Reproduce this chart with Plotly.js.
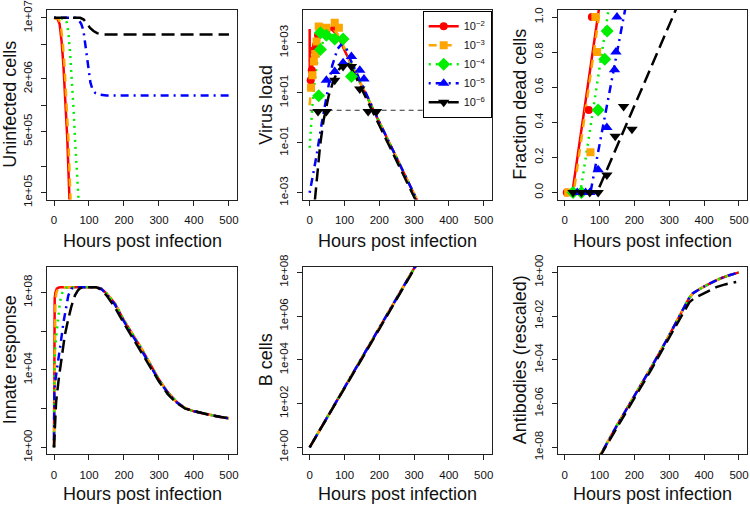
<!DOCTYPE html>
<html><head><meta charset="utf-8">
<script src="https://cdn.plot.ly/plotly-3.0.1.min.js"></script>
<style>html,body{margin:0;padding:0;background:#fff}#chart{width:750px;height:508px}</style>
</head><body><div id="chart"></div>
<script>
// ---------- categories / styling per dose ----------
const doseLabels = ['10<sup>−2</sup>','10<sup>−3</sup>','10<sup>−4</sup>','10<sup>−5</sup>','10<sup>−6</sup>'];
const doseColors = ['#FF0000','#FFA500','#00EE00','#0000FF','#000000'];
const doseDash = ['solid','8px,7px','2px,5px','2px,5px,8px,5px','13px,6px'];
const doseSymbols = ['circle','square','diamond','triangle-up','triangle-down'];
const xTickVals = [0,100,200,300,400,500];
const xTitle = 'Hours post infection';
const yTitles = ['Uninfected cells','Virus load','Fraction dead cells','Innate response','B cells','Antibodies (rescaled)'];

// ---------- Panel 1: uninfected cells (log10 values) ----------
const p1_t_red    = [0,10,16,22,27,32,38,44,48];
const p1_v_red    = [7,6.99,6.93,6.72,6.45,6.12,5.62,4.95,4.55];
const p1_t_orange = [0,13,19,25,30,35,41,47,51];
const p1_v_orange = [7,6.99,6.93,6.72,6.45,6.12,5.62,4.95,4.55];
const p1_t_green  = [0,32,37,41,46,51,56,61,66,71,75];
const p1_v_green  = [7,6.99,6.94,6.83,6.6,6.33,5.95,5.54,5.2,4.88,4.6];
const p1_t_blue   = [0,62,70,78,84,89,94,99,104,110,118,130,150,500];
const p1_v_blue   = [7,7,6.98,6.93,6.86,6.72,6.56,6.4,6.26,6.18,6.14,6.12,6.11,6.11];
const p1_t_black  = [0,75,85,95,103,113,123,140,500];
const p1_v_black  = [7,7,6.98,6.93,6.885,6.85,6.825,6.81,6.81];

// ---------- Panel 2: virus load model (log10) ----------
const p2_t_red    = [0,0.3,3,6,10,18,28,40,55,70,85,100,112,120,200,320];
const p2_v_red    = [3.55,1.6,1.5,1.9,2.5,3.0,3.4,3.6,3.62,3.45,3.15,2.7,2.35,2.13,-0.17,-3.63];
const p2_t_orange = [0,3,7,12,18,25,35,50,65,80,95,108,120,200,320];
const p2_v_orange = [0.5,1.2,1.7,2.3,2.8,3.2,3.5,3.62,3.6,3.35,2.95,2.5,2.13,-0.17,-3.63];
const p2_t_green  = [0,4,8,14,20,30,42,55,70,85,100,110,120,200,320];
const p2_v_green  = [-1.2,-0.2,0.5,1.4,2.1,2.75,3.15,3.3,3.3,3.2,2.95,2.55,2.13,-0.17,-3.63];
const p2_t_blue   = [0,10,20,35,50,65,80,92,105,118,200,320];
const p2_v_blue   = [-3.0,-2.3,-1.5,-0.2,1.0,2.1,2.75,2.95,2.8,2.3,-0.17,-3.63];
const p2_t_black  = [15,20,30,40,55,70,85,100,112,125,150,200,310];
const p2_v_black  = [-3.3,-2.5,-1.1,-0.1,0.9,1.55,1.95,2.15,2.15,1.85,1.15,-0.3,-3.45];
// virus load data points (log10)
const d2_t_red    = [3,6,9,12,18,24,36,48,72];
const d2_v_red    = [1.5,1.9,2.3,2.7,2.9,3.3,3.55,3.5,3.65];
const d2_t_orange = [4,8,12,16,20,26,30,48,72,84];
const d2_v_orange = [1.2,1.7,2.25,2.55,3.05,3.65,3.6,3.6,3.8,3.6];
const d2_t_green  = [26,31,31,48,72,96,120];
const d2_v_green  = [0.88,2.73,3.4,3.3,3.15,3.15,1.65];
const d2_t_blue   = [48,72,96,120,144,156];
const d2_v_blue   = [1.5,1.85,2.2,2.45,1.9,1.55];
const d2_t_black  = [24,48,72,96,120,144,168,192];
const d2_v_black  = [0.25,0.25,1.5,2.05,2.05,1.15,0.25,0.25];
const lodT = [0,500];
const lodV = [0.3,0.3];

// ---------- Panel 3: fraction dead cells ----------
const p3_t_red    = [0,22,100];
const p3_v_red    = [0,0,1.07];
const p3_t_orange = [0,26,103];
const p3_v_orange = [0,0,1.07];
const p3_t_green  = [0,45,128];
const p3_v_green  = [0,0,1.07];
const p3_t_blue   = [0,74,176];
const p3_v_blue   = [0,0,1.07];
const p3_t_black  = [0,93,325];
const p3_v_black  = [0,0,1.07];
const d3_t_red    = [6,69,78];
const d3_v_red    = [0,0.47,1.0];
const d3_t_orange = [10,74,88,93];
const d3_v_orange = [0,0.23,1.0,0.80];
const d3_t_green  = [24,48,96,115,122];
const d3_v_green  = [0,0,0.47,0.76,0.92];
const d3_t_blue   = [36,60,72,96,121,143,147,150];
const d3_v_blue   = [0,0,0,0.13,0.37,0.70,0.80,1.0];
const d3_t_black  = [24,48,72,96,121,145,169,193];
const d3_v_black  = [0,0,0,0,0.10,0.32,0.49,0.36];

// ---------- Panel 4: innate response (log10) ----------
const p4_t_red    = [0,0.5,1,2,4,8,14,20,120,135,150,175,200,225,250,275,300,325,350,375,400,425,450,475,500];
const p4_v_red    = [0,5,7,7.7,8,8.2,8.26,8.27,8.27,8.2,7.95,7.4,6.55,5.85,5.1,4.3,3.5,2.85,2.35,2.02,1.86,1.76,1.65,1.57,1.5];
const p4_t_orange = [0,1,2,4,7,12,20,25,120,135,150,175,200,225,250,275,300,325,350,375,400,425,450,475,500];
const p4_v_orange = [0,4,6.5,7.6,8,8.2,8.26,8.27,8.27,8.2,7.95,7.4,6.55,5.85,5.1,4.3,3.5,2.85,2.35,2.02,1.86,1.76,1.65,1.57,1.5];
const p4_t_green  = [0,0.3,1,4,8,12,17,22,27,35,45,120,135,150,175,200,225,250,275,300,325,350,375,400,425,450,475,500];
const p4_v_green  = [0,2.5,4.4,5.3,6.1,6.8,7.5,7.9,8.12,8.25,8.27,8.27,8.2,7.95,7.4,6.55,5.85,5.1,4.3,3.5,2.85,2.35,2.02,1.86,1.76,1.65,1.57,1.5];
const p4_t_blue   = [0,0.3,1,5,12,20,27,34,41,50,60,120,135,150,175,200,225,250,275,300,325,350,375,400,425,450,475,500];
const p4_v_blue   = [0,2,3,3.6,4.4,5.5,6.45,7.2,7.85,8.2,8.27,8.27,8.18,7.92,7.35,6.5,5.78,5.02,4.22,3.45,2.82,2.33,2.02,1.86,1.76,1.65,1.57,1.5];
const p4_t_black  = [0,3,6,14,22,31,41,50,60,68,75,85,120,135,150,175,200,225,250,275,300,325,350,375,400,425,450,475,500];
const p4_v_black  = [0,1.5,2.34,3.6,4.75,5.8,6.64,7.3,7.85,8.1,8.22,8.27,8.27,8.15,7.85,7.2,6.4,5.65,4.9,4.15,3.4,2.75,2.3,2.0,1.86,1.76,1.65,1.57,1.5];

// ---------- Panel 5: B cells (log10) ----------
const p5_t        = [0,50,100,150,200,250,300,320];
const p5_v_red    = [0,1.36,2.73,4.09,5.45,6.82,8.18,8.73];
const p5_v_orange = [0,1.36,2.73,4.09,5.45,6.82,8.18,8.73];
const p5_v_green  = [0,1.36,2.73,4.09,5.45,6.82,8.18,8.73];
const p5_v_blue   = [0,1.36,2.73,4.09,5.45,6.82,8.18,8.73];
const p5_v_black  = [0,1.33,2.69,4.05,5.41,6.78,8.14,8.69];

// ---------- Panel 6: antibodies (log10) ----------
const p6_t        = [100,110,150,196,250,292,320,344,356,368,382,397,420,445,470,497,500];
const p6_v_red    = [-8.4,-8.14,-7.0,-5.78,-4.3,-3.11,-2.3,-1.55,-1.2,-0.95,-0.8,-0.67,-0.48,-0.29,-0.14,-0.02,0];
const p6_v_orange = [-8.4,-8.14,-7.0,-5.78,-4.3,-3.11,-2.3,-1.55,-1.2,-0.95,-0.8,-0.67,-0.48,-0.29,-0.14,-0.02,0];
const p6_v_green  = [-8.4,-8.14,-7.0,-5.78,-4.3,-3.11,-2.3,-1.55,-1.2,-0.95,-0.8,-0.67,-0.48,-0.29,-0.14,-0.02,0];
const p6_v_blue   = [-8.4,-8.14,-7.0,-5.78,-4.3,-3.11,-2.3,-1.55,-1.2,-0.95,-0.8,-0.67,-0.48,-0.29,-0.14,-0.02,0];
const p6_t_black  = [100,150,196,250,292,320,340,358,372,387,410,435,460,492];
const p6_v_black  = [-8.45,-7.1,-5.9,-4.4,-3.2,-2.4,-1.85,-1.36,-1.18,-1.05,-0.86,-0.67,-0.55,-0.44];

// ---------- axis ticks ----------
const yTickVals = [[1e5,5e5,2e6,1e7],[1e-3,1e-1,1e1,1e3],[0,0.2,0.4,0.6,0.8,1.0],[1,1e4,1e8],[1,1e2,1e4,1e6,1e8],[1e-8,1e-6,1e-4,1e-2,1]];
const yTickText = [['1e+05','5e+05','2e+06','1e+07'],['1e-03','1e-01','1e+01','1e+03'],['0.0','0.2','0.4','0.6','0.8','1.0'],['1e+00','1e+04','1e+08'],['1e+00','1e+02','1e+04','1e+06','1e+08'],['1e-08','1e-06','1e-04','1e-02','1e+00']];
const yMinorVals = [[2e5,1e6,5e6],[],[],[1e2,1e6],[],[]];

// ---------- build ----------
const pow10 = a => a.map(v => Math.pow(10, v));
const traces = [];
function addLines(ax, ts, vs, isLog) {
  for (let k = 0; k < 5; k++) {
    traces.push({type:'scatter', mode:'lines', x:ts[k], y:isLog ? pow10(vs[k]) : vs[k],
      xaxis:'x'+ax, yaxis:'y'+ax, showlegend:false, hoverinfo:'skip',
      line:{color:doseColors[k], width:2.5, dash:doseDash[k]}});
  }
}
function addMarkers(ax, ts, vs, isLog) {
  for (let k = 0; k < 5; k++) {
    traces.push({type:'scatter', mode:'markers', x:ts[k], y:isLog ? pow10(vs[k]) : vs[k],
      xaxis:'x'+ax, yaxis:'y'+ax, showlegend:false, hoverinfo:'skip',
      marker:{color:doseColors[k], symbol:doseSymbols[k], size:k>=2?10:8, line:{width:0}}});
  }
}
addLines('', [p1_t_red,p1_t_orange,p1_t_green,p1_t_blue,p1_t_black],[p1_v_red,p1_v_orange,p1_v_green,p1_v_blue,p1_v_black], true);
traces.push({type:'scatter', mode:'lines', x:lodT, y:pow10(lodV), xaxis:'x2', yaxis:'y2', showlegend:false, hoverinfo:'skip', line:{color:'#333', width:1.2, dash:'5px,4px'}});
addLines('2', [p2_t_red,p2_t_orange,p2_t_green,p2_t_blue,p2_t_black],[p2_v_red,p2_v_orange,p2_v_green,p2_v_blue,p2_v_black], true);
addMarkers('2', [d2_t_red,d2_t_orange,d2_t_green,d2_t_blue,d2_t_black],[d2_v_red,d2_v_orange,d2_v_green,d2_v_blue,d2_v_black], true);
addLines('3', [p3_t_red,p3_t_orange,p3_t_green,p3_t_blue,p3_t_black],[p3_v_red,p3_v_orange,p3_v_green,p3_v_blue,p3_v_black], false);
addMarkers('3', [d3_t_red,d3_t_orange,d3_t_green,d3_t_blue,d3_t_black],[d3_v_red,d3_v_orange,d3_v_green,d3_v_blue,d3_v_black], false);
addLines('4', [p4_t_red,p4_t_orange,p4_t_green,p4_t_blue,p4_t_black],[p4_v_red,p4_v_orange,p4_v_green,p4_v_blue,p4_v_black], true);
addLines('5', [p5_t,p5_t,p5_t,p5_t,p5_t],[p5_v_red,p5_v_orange,p5_v_green,p5_v_blue,p5_v_black], true);
addLines('6', [p6_t,p6_t,p6_t,p6_t,p6_t_black],[p6_v_red,p6_v_orange,p6_v_green,p6_v_blue,p6_v_black], true);
// legend entries (line + symbol), no data
for (let k = 0; k < 5; k++) {
  traces.push({type:'scatter', mode:'lines+markers', x:[null], y:[null], xaxis:'x2', yaxis:'y2',
    name:doseLabels[k], showlegend:true, hoverinfo:'skip',
    line:{color:doseColors[k], width:2.5, dash:doseDash[k]},
    marker:{color:doseColors[k], symbol:doseSymbols[k], size:k>=2?10:8, line:{width:0}}});
}

const W = 750, H = 508;
const colX = [[47,237],[302.7,491.7],[557.7,747]];
const rowY = [[10,199.5],[266.7,454]];
const FONT = 'Liberation Sans, Arial, Helvetica, sans-serif';
function xDom(c){ return [colX[c][0]/W, colX[c][1]/W]; }
function yDom(r){ return [1-rowY[r][1]/H, 1-rowY[r][0]/H]; }
const common = {showline:true, mirror:true, linecolor:'#222', linewidth:1, ticks:'outside', ticklen:5,
  tickcolor:'#222', tickwidth:1, showgrid:false, zeroline:false, ticklabeloverflow:'allow',
  tickfont:{family:FONT, size:11.5, color:'#111'}};
const yRanges = [[4.92,7.09],[-3.27,4.31],[-0.04,1.04],[-0.344,9.33],[-0.305,8.26],[-8.305,0.26]];
const yTypes = ['log','log','linear','log','log','log'];

const layout = {width:W, height:H, margin:{l:0,r:0,t:0,b:0}, paper_bgcolor:'#fff', plot_bgcolor:'#fff',
  font:{family:FONT, color:'#111'}, showlegend:true,
  legend:{x:colX[1][1]/W, xanchor:'right', y:1-10.7/H, yanchor:'top', bordercolor:'#000', borderwidth:1,
    bgcolor:'#fff', font:{family:FONT, size:11, color:'#111'}, itemwidth:30, tracegroupgap:0},
  annotations:[]};
for (let i = 0; i < 6; i++) {
  const r = Math.floor(i/3), c = i%3, s = i===0?'':String(i+1);
  layout['xaxis'+s] = Object.assign({}, common, {domain:xDom(c), anchor:'y'+s, range:[-20,523],
    tickvals:xTickVals, ticktext:xTickVals.map(String), ticklabelstandoff:5});
  const ya = Object.assign({}, common, {domain:yDom(r), anchor:'x'+s, type:yTypes[i], range:yRanges[i],
    tickvals:yTickVals[i], ticktext:yTickText[i], tickangle:-90, ticklabelstandoff:4});
  if (yMinorVals[i].length) {
    ya.minor = {tickvals:yMinorVals[i], ticks:'outside', ticklen:5, tickcolor:'#222', tickwidth:1, showgrid:false};
  }
  layout['yaxis'+s] = ya;
  layout.annotations.push({xref:'paper', yref:'paper', x:(colX[c][0]+colX[c][1])/2/W, y:1-(r===0?241:494)/H,
    xanchor:'center', yanchor:'middle', text:xTitle, showarrow:false, font:{family:FONT, size:18, color:'#111'}});
  const yc = [10,266,520][c];
  layout.annotations.push({xref:'paper', yref:'paper', x:yc/W, y:1-(rowY[r][0]+rowY[r][1])/2/H,
    xanchor:'center', yanchor:'middle', text:yTitles[i], textangle:-90, showarrow:false, font:{family:FONT, size:18, color:'#111'}});
}
Plotly.newPlot('chart', traces, layout, {staticPlot:true, displayModeBar:false});
</script></body></html>
